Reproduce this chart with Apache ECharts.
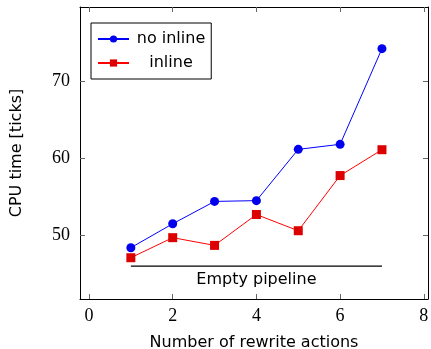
<!DOCTYPE html>
<html>
<head>
<meta charset="utf-8">
<script src="https://cdn.jsdelivr.net/npm/echarts@6/dist/echarts.min.js"></script>
<style>
  html, body { margin: 0; padding: 0; background: #fff; }
  #main { width: 431px; height: 349px; }
</style>
</head>
<body>
<div id="main"></div>
<script>
// rewrite actions
const actions = [1, 2, 3, 4, 5, 6, 7];
// CPU time [ticks]
const noInline = [48.4, 51.5, 54.4, 54.5, 61.15, 61.8, 74.2];
const withInline = [47.1, 49.7, 48.7, 52.7, 50.6, 57.75, 61.1];
const xTicks = [0, 2, 4, 6, 8];
const yTicks = [50, 60, 70];
// empty pipeline baseline
const pipelineX = [1, 7];
const pipelineY = 46;
const pipelineLabel = 'Empty pipeline';

const serif = '"Liberation Serif", "DejaVu Serif", serif';
const sans = '"DejaVu Sans", sans-serif';

const xRange = { min: -0.215, max: 8.1 };
const yRange = { min: 41.75, max: 79.6 };

function xAxisCfg(show) {
  return {
    type: 'value',
    ...xRange,
    position: show ? 'bottom' : 'top',
    name: show ? 'Number of rewrite actions' : '',
    nameLocation: 'middle',
    nameGap: 36,
    nameTextStyle: { fontFamily: sans, fontSize: 16, color: '#000' },
    axisLine: { show: true, onZero: false, lineStyle: { color: '#000', width: 1 } },
    axisTick: { show: true, inside: true, length: 5, customValues: xTicks, lineStyle: { color: '#666' } },
    axisLabel: { show: show, customValues: xTicks, fontFamily: serif, fontSize: 18, color: '#000', margin: 8 },
    splitLine: { show: false },
  };
}

function yAxisCfg(show) {
  return {
    type: 'value',
    ...yRange,
    position: show ? 'left' : 'right',
    name: show ? 'CPU time [ticks]' : '',
    nameLocation: 'middle',
    nameGap: 55,
    nameTextStyle: { fontFamily: sans, fontSize: 16, color: '#000' },
    axisLine: { show: true, onZero: false, lineStyle: { color: '#000', width: 1 } },
    axisTick: { show: true, inside: true, length: 5, customValues: yTicks, lineStyle: { color: '#666' } },
    axisLabel: { show: show, customValues: yTicks, fontFamily: serif, fontSize: 18, color: '#000', margin: 10 },
    splitLine: { show: false },
  };
}

let myChart = echarts.init(document.getElementById('main'));
let option = {
  animation: false,
  grid: { left: 80, top: 7, right: 3, bottom: 50, containLabel: false, outerBoundsMode: 'none' },
  xAxis: [xAxisCfg(true), xAxisCfg(false)],
  yAxis: [yAxisCfg(true), yAxisCfg(false)],
  legend: {
    orient: 'vertical',
    left: 91,
    top: 23,
    padding: [8, 6, 8, 6],
    itemGap: 8,
    itemWidth: 31,
    itemHeight: 9,
    borderColor: '#000',
    borderWidth: 1,
    borderRadius: 0,
    formatter: (name) => '{a|' + name + '}',
    textStyle: {
      fontFamily: sans, fontSize: 16, color: '#000',
      rich: {
        a: { fontFamily: sans, fontSize: 16, color: '#000', width: 74, align: 'center' },
      },
    },
    data: ['no inline', 'inline'],
  },
  series: [
    {
      name: 'no inline',
      type: 'line',
      data: actions.map((x, i) => [x, noInline[i]]),
      symbol: 'circle',
      symbolSize: 9,
      lineStyle: { color: '#0000ff', width: 1 },
      itemStyle: { color: '#0000ee' },
    },
    {
      name: 'inline',
      type: 'line',
      data: actions.map((x, i) => [x, withInline[i]]),
      symbol: 'rect',
      symbolSize: 9,
      lineStyle: { color: '#ff0000', width: 1 },
      itemStyle: { color: '#dd0000' },
    },
    {
      name: 'pipeline',
      type: 'line',
      data: pipelineX.map((x) => [x, pipelineY]),
      symbol: 'none',
      lineStyle: { color: '#000', width: 1.2 },
      silent: true,
      z: 1,
    },
    {
      name: 'pipelineLabel',
      type: 'scatter',
      data: [[(pipelineX[0] + pipelineX[1]) / 2, pipelineY]],
      symbolSize: 0,
      itemStyle: { opacity: 1 },
      label: {
        show: true,
        position: 'bottom',
        distance: 6,
        formatter: pipelineLabel,
        fontFamily: sans,
        fontSize: 16,
        color: '#000',
        opacity: 1,
      },
      silent: true,
    },
  ],
};
myChart.setOption(option);
</script>
</body>
</html>
